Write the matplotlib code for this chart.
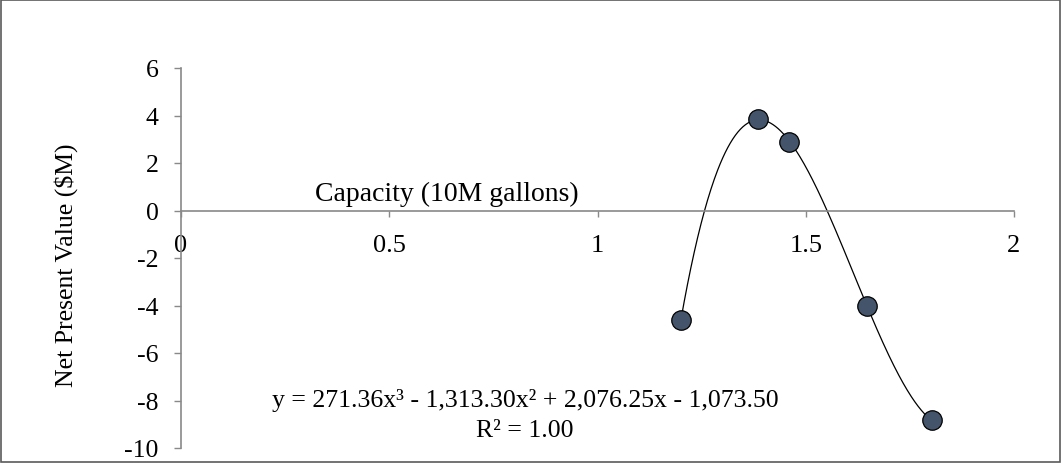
import numpy as np
import matplotlib.pyplot as plt
from matplotlib.patches import Rectangle

# ── data ─────────────────────────────────────────────────────────────────────
capacity = [1.20, 1.386, 1.46, 1.648, 1.802]   # 10M gallons
npv      = [-4.63, 3.86, 2.89, -4.04, -8.84]   # $M

x_ticks = [0, 0.5, 1, 1.5, 2]
x_tick_labels = ['0', '0.5', '1', '1.5', '2']
y_ticks = [-10, -8, -6, -4, -2, 0, 2, 4, 6]

eq_text = 'y = 271.36x\u00b3 - 1,313.30x\u00b2 + 2,076.25x - 1,073.50'
r2_text = 'R\u00b2 = 1.00'

plt.rcParams['font.family'] = ['Liberation Serif', 'DejaVu Serif']
plt.rcParams['axes.unicode_minus'] = False

# ── figure ───────────────────────────────────────────────────────────────────
fig = plt.figure(figsize=(10.62, 4.64), dpi=100)
ax = fig.add_axes([181 / 1062, 1 - 449 / 464, 833 / 1062, 380 / 464])

# cubic trendline through the points
coef = np.polyfit(capacity, npv, 3)
xs = np.linspace(min(capacity), max(capacity), 300)
ax.plot(xs, np.polyval(coef, xs), color='black', lw=0.9, zorder=2)

ax.plot(capacity, npv, 'o', ms=14, mfc='#44546A', mec='black', mew=0.9,
        zorder=3, clip_on=False)

ax.set_xlim(0, 2)
ax.set_ylim(-10, 6)
ax.set_xticks(x_ticks)
ax.set_xticklabels(x_tick_labels)
ax.set_yticks(y_ticks)

axis_grey = '#898989'
for s in ['top', 'right']:
    ax.spines[s].set_visible(False)
ax.spines['bottom'].set_position(('data', 0))
ax.spines['left'].set_position(('data', 0))
for s in ['bottom', 'left']:
    ax.spines[s].set_color(axis_grey)
    ax.spines[s].set_linewidth(1.2)

ax.tick_params(axis='x', direction='out', length=4, width=1, color=axis_grey,
               pad=13, labelsize=19)
ax.tick_params(axis='y', direction='out', length=5, width=1, color=axis_grey,
               pad=11, labelsize=18.5)

ax.set_ylabel('Net Present Value ($M)', fontsize=18.5)
ax.yaxis.set_label_coords(-0.1237, 0.484)
ax.set_xlabel('Capacity (10M gallons)', fontsize=20, va='baseline')
ax.xaxis.set_label_coords(0.319, (449 - 201) / 380)

# trendline label, two lines
ax.text(525 / 1062, 1 - 407 / 464, eq_text, transform=fig.transFigure,
        ha='center', va='baseline', fontsize=18.5)
ax.text(525 / 1062, 1 - 437 / 464, r2_text, transform=fig.transFigure,
        ha='center', va='baseline', fontsize=18.5)

# outer chart border
fig.patches.append(Rectangle((0.001, 0.002), 0.997, 0.995, transform=fig.transFigure,
                             fill=False, edgecolor='#5a5a5a', lw=1.2))

fig.savefig('out.png', dpi=100)
